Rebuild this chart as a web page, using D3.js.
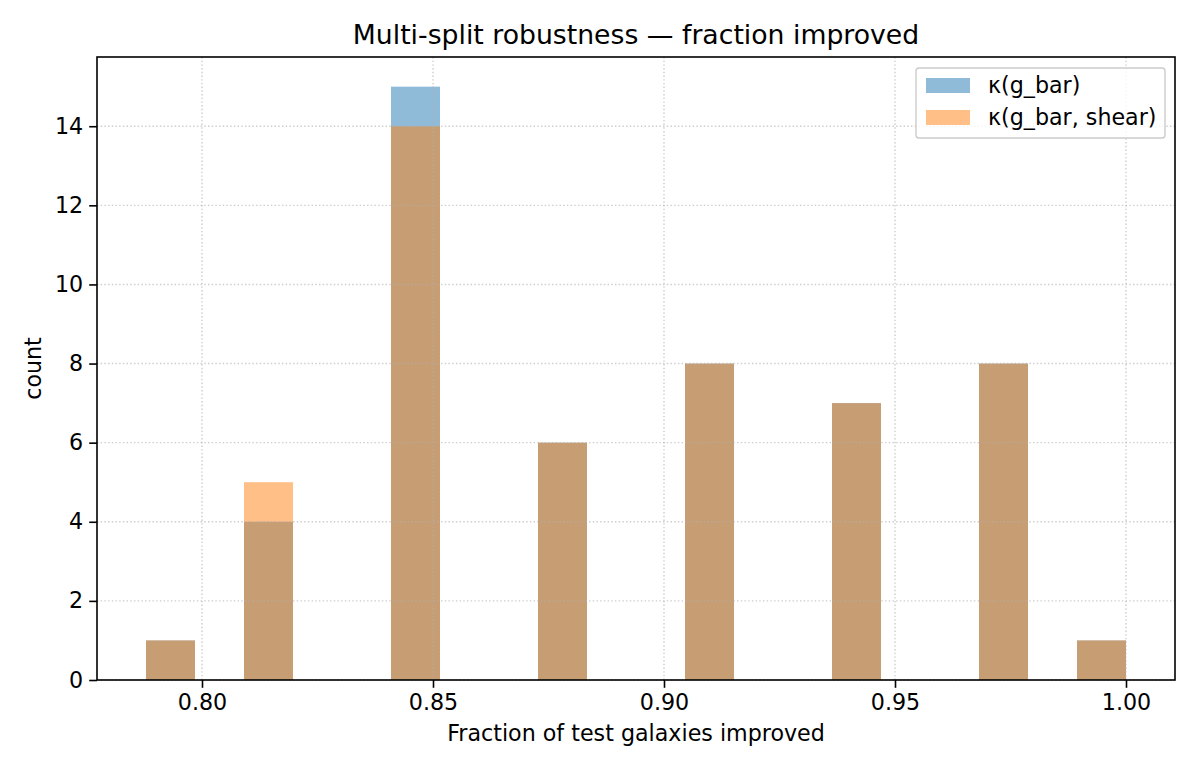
<!DOCTYPE html>
<html>
<head>
<meta charset="utf-8">
<script src="https://cdn.jsdelivr.net/npm/d3@7"></script>
<style>
  body { margin: 0; background: #fff; }
  svg text { font-family: "DejaVu Sans", sans-serif; fill: #000; }
</style>
</head>
<body>
<div id="chart"></div>
<script>
(function () {
  'use strict';

  // number of improved galaxies out of 33 per split, and how many splits had it
  var totalGalaxies = 33;
  var improvedCounts = [26, 27, 28, 29, 30, 31, 32, 33];
  var splitsGbar = [1, 4, 15, 6, 8, 7, 8, 1];
  var splitsShear = [1, 5, 14, 6, 8, 7, 8, 1];
  var seriesNames = ["κ(g_bar)", "κ(g_bar, shear)"];
  var seriesColors = ["#1f77b4", "#ff7f0e"];
  var xTicks = [0.80, 0.85, 0.90, 0.95, 1.00];
  var yTicks = [0, 2, 4, 6, 8, 10, 12, 14];
  var nBins = 20;

  var width = 1200, height = 768;
  var margin = { top: 57, right: 25, bottom: 88, left: 97 };
  var innerW = width - margin.left - margin.right,
      innerH = height - margin.top - margin.bottom;
  var fs = "22.2px";

  function expand(counts) {
    var out = [];
    improvedCounts.forEach(function (k, i) {
      for (var j = 0; j < counts[i]; j++) out.push(k / totalGalaxies);
    });
    return out;
  }

  var samples = [expand(splitsGbar), expand(splitsShear)];
  var lo = d3.min(samples[0].concat(samples[1])),
      hi = d3.max(samples[0].concat(samples[1]));
  var step = (hi - lo) / nBins;
  var edges = d3.range(1, nBins).map(function (i) { return lo + i * step; });

  var binner = d3.bin().domain([lo, hi]).thresholds(edges);
  var binned = samples.map(function (s) { return binner(s); });

  var pad = (hi - lo) * 0.05;
  var x = d3.scaleLinear().domain([lo - pad, hi + pad]).range([0, innerW]);
  var yMax = d3.max(binned, function (b) { return d3.max(b, function (d) { return d.length; }); });
  var y = d3.scaleLinear().domain([0, yMax * 1.05]).range([innerH, 0]);

  var svg = d3.select("#chart").append("svg")
    .attr("width", width).attr("height", height);
  var g = svg.append("g").attr("transform", "translate(" + margin.left + "," + margin.top + ")");

  // bars
  binned.forEach(function (bins, si) {
    g.append("g").selectAll("rect")
      .data(bins.filter(function (d) { return d.length > 0; }))
      .enter().append("rect")
      .attr("x", function (d) { return x(d.x0); })
      .attr("width", function (d) { return x(d.x1) - x(d.x0); })
      .attr("y", function (d) { return y(d.length); })
      .attr("height", function (d) { return y(0) - y(d.length); })
      .attr("fill", seriesColors[si])
      .attr("fill-opacity", 0.5);
  });

  // grid
  var grid = g.append("g").attr("stroke", "#b0b0b0").attr("stroke-opacity", 0.65)
    .attr("stroke-width", 1.4).attr("stroke-dasharray", "1.4,2.3");
  grid.selectAll(".gx").data(xTicks).enter().append("line")
    .attr("x1", function (d) { return x(d); }).attr("x2", function (d) { return x(d); })
    .attr("y1", 0).attr("y2", innerH);
  grid.selectAll(".gy").data(yTicks).enter().append("line")
    .attr("y1", function (d) { return y(d); }).attr("y2", function (d) { return y(d); })
    .attr("x1", 0).attr("x2", innerW);

  // axes
  var xAxis = g.append("g").attr("transform", "translate(0," + innerH + ")")
    .call(d3.axisBottom(x).tickValues(xTicks).tickFormat(d3.format(".2f")).tickSize(7.8).tickPadding(6));
  var yAxis = g.append("g")
    .call(d3.axisLeft(y).tickValues(yTicks).tickFormat(d3.format("d")).tickSize(7.8).tickPadding(6));
  [xAxis, yAxis].forEach(function (a) {
    a.select(".domain").remove();
    a.selectAll("line").attr("stroke", "#000").attr("stroke-width", 1.6);
    a.selectAll("text").attr("font-size", fs).attr("font-family", "DejaVu Sans, sans-serif");
  });

  g.append("rect").attr("width", innerW).attr("height", innerH)
    .attr("fill", "none").attr("stroke", "#000").attr("stroke-width", 1.6);

  // labels
  svg.append("text").attr("x", margin.left + innerW / 2).attr("y", 44)
    .attr("text-anchor", "middle").attr("font-size", "26.7px")
    .text("Multi-split robustness — fraction improved");
  svg.append("text").attr("x", margin.left + innerW / 2).attr("y", 741)
    .attr("text-anchor", "middle").attr("font-size", fs)
    .text("Fraction of test galaxies improved");
  svg.append("text").attr("transform", "translate(41," + (margin.top + innerH / 2) + ") rotate(-90)")
    .attr("text-anchor", "middle").attr("font-size", fs)
    .text("count");

  // legend
  var lg = svg.append("g").attr("transform", "translate(916,68)");
  lg.append("rect").attr("width", 249).attr("height", 70).attr("rx", 3)
    .attr("fill", "#fff").attr("fill-opacity", 0.8)
    .attr("stroke", "#cccccc").attr("stroke-width", 1.4);
  seriesNames.forEach(function (name, i) {
    lg.append("rect").attr("x", 10).attr("y", 10 + i * 32).attr("width", 44).attr("height", 15)
      .attr("fill", seriesColors[i]).attr("fill-opacity", 0.5);
    lg.append("text").attr("x", 72).attr("y", 25 + i * 32).attr("font-size", fs).text(name);
  });
}());
</script>
</body>
</html>
